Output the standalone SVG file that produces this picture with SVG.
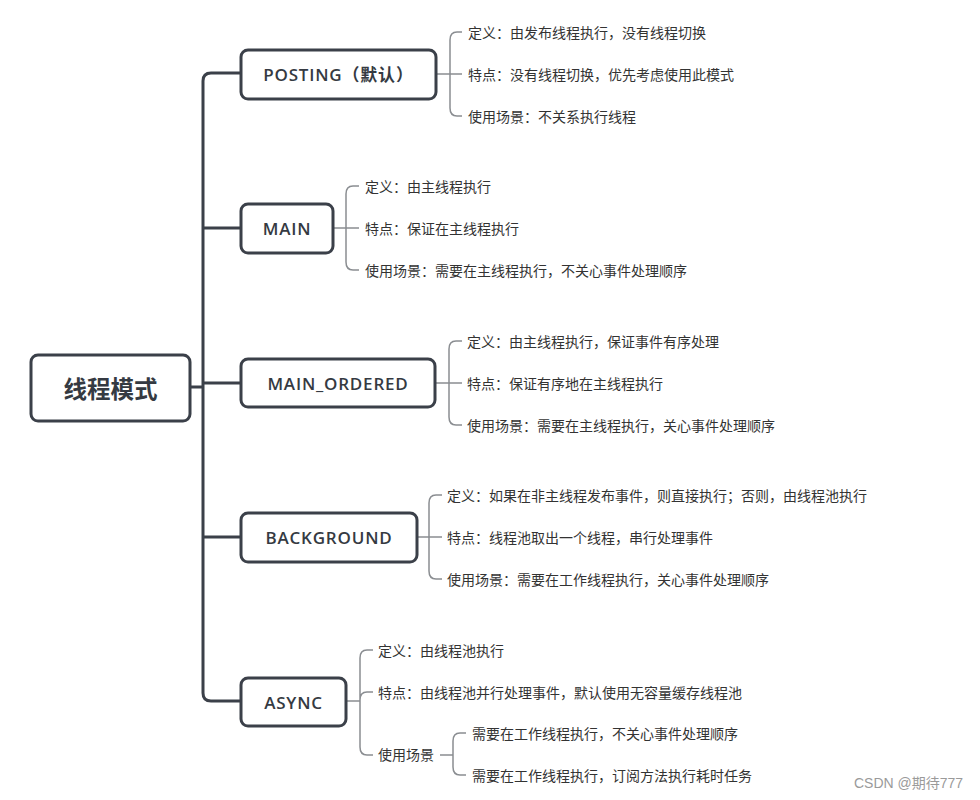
<svg xmlns="http://www.w3.org/2000/svg" width="980" height="800" viewBox="0 0 980 800">
<style>
.box{fill:#fff;stroke:#3b4049;stroke-width:3}
.node{font-family:"Open Sans","Noto Sans CJK SC",sans-serif;font-weight:600;font-size:17px;letter-spacing:0.8px;fill:#353a42;text-anchor:middle;dominant-baseline:central}
.root{font-family:"Noto Sans CJK SC",sans-serif;font-weight:700;font-size:23.5px;fill:#353a42;text-anchor:middle;dominant-baseline:central}
.leaf{font-family:"Noto Sans CJK SC",sans-serif;font-size:14px;fill:#333;dominant-baseline:central}
.trunk{fill:none;stroke:#3b4049;stroke-width:3;stroke-linecap:round}
.br{fill:none;stroke:#8a8d91;stroke-width:1.5}
.wm{font-family:"Liberation Sans","Noto Sans CJK SC",sans-serif;font-size:14px;fill:#9a9a9a}
</style>
<rect width="980" height="800" fill="#fff"/>
<g id="connectors">
<path class="trunk" d="M190,387 H203 M241,73 H211 Q203,73 203,81 V693 Q203,701 211,701 H241 M203,228 H241 M203,383 H241 M203,537 H241"/>
<path class="br" d="M436,74 H462 M462,32 H457 Q450,32 450,40 V108 Q450,116 457,116 H462"/>
<path class="br" d="M333,228 H359 M359,186 H353 Q346,186 346,194 V262 Q346,270 353,270 H359"/>
<path class="br" d="M435,383 H462 M462,341 H456 Q449,341 449,349 V417 Q449,425 456,425 H462"/>
<path class="br" d="M417,537 H442 M442,495 H436 Q429,495 429,503 V571 Q429,579 436,579 H442"/>
<path class="br" d="M346,701 H360 M373,650 H367 Q360,650 360,658 V747 Q360,755 367,755 H373 M360,700 Q360,692 367,692 H373"/>
<path class="br" d="M440,755 H453 M466,733 H460 Q453,733 453,741 V767 Q453,775 460,775 H466"/>
</g>
<g id="root">
<rect class="box" x="31" y="355" width="159" height="66" rx="7"/>
<text class="root" x="110.5" y="388">线程模式</text>
</g>
<g id="posting">
<rect class="box" x="241" y="50" width="195" height="49" rx="7"/>
<text class="node" x="338.5" y="74.5">POSTING（默认）</text>
<text class="leaf" x="468" y="32">定义：由发布线程执行，没有线程切换</text>
<text class="leaf" x="468" y="74">特点：没有线程切换，优先考虑使用此模式</text>
<text class="leaf" x="468" y="116">使用场景：不关系执行线程</text>
</g>
<g id="main">
<rect class="box" x="241" y="204" width="92" height="49" rx="7"/>
<text class="node" x="287" y="228.5">MAIN</text>
<text class="leaf" x="365" y="186">定义：由主线程执行</text>
<text class="leaf" x="365" y="228">特点：保证在主线程执行</text>
<text class="leaf" x="365" y="270">使用场景：需要在主线程执行，不关心事件处理顺序</text>
</g>
<g id="main_ordered">
<rect class="box" x="241" y="359" width="194" height="48" rx="7"/>
<text class="node" x="338" y="383">MAIN_ORDERED</text>
<text class="leaf" x="467" y="341">定义：由主线程执行，保证事件有序处理</text>
<text class="leaf" x="467" y="383">特点：保证有序地在主线程执行</text>
<text class="leaf" x="467" y="425">使用场景：需要在主线程执行，关心事件处理顺序</text>
</g>
<g id="background">
<rect class="box" x="241" y="513" width="176" height="49" rx="7"/>
<text class="node" x="329" y="537.5">BACKGROUND</text>
<text class="leaf" x="447" y="495">定义：如果在非主线程发布事件，则直接执行；否则，由线程池执行</text>
<text class="leaf" x="447" y="537">特点：线程池取出一个线程，串行处理事件</text>
<text class="leaf" x="447" y="579">使用场景：需要在工作线程执行，关心事件处理顺序</text>
</g>
<g id="async">
<rect class="box" x="241" y="678" width="105" height="48" rx="7"/>
<text class="node" x="293.5" y="702">ASYNC</text>
<text class="leaf" x="378" y="650">定义：由线程池执行</text>
<text class="leaf" x="378" y="692">特点：由线程池并行处理事件，默认使用无容量缓存线程池</text>
<text class="leaf" x="378" y="754">使用场景</text>
<text class="leaf" x="472" y="733">需要在工作线程执行，不关心事件处理顺序</text>
<text class="leaf" x="472" y="775">需要在工作线程执行，订阅方法执行耗时任务</text>
</g>
<text class="wm" x="854" y="788">CSDN @期待777</text>
</svg>
